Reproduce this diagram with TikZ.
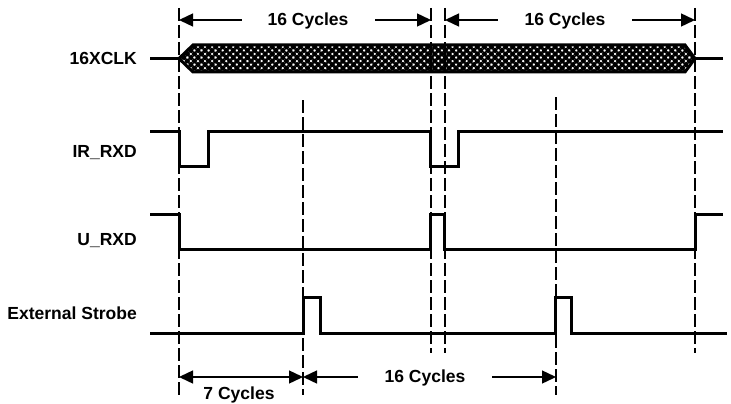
\documentclass[tikz,border=0pt]{standalone}
\usepackage{fontspec}
\setmainfont{Liberation Sans}
\usetikzlibrary{arrows.meta,patterns.meta}
\begin{document}
\begin{tikzpicture}[x=1pt,y=-1pt,font=\fontsize{17.5}{19}\selectfont\bfseries,line join=miter,
	>={Triangle[length=14pt,width=13pt]},
	sig/.style={line width=3pt},
	guide/.style={line width=1.1pt,dash pattern=on 13pt off 4pt},
	dim/.style={line width=1.4pt},
	lbl/.style={anchor=base east,inner sep=0pt}]
	\useasboundingbox (0,0) rectangle (731,404);
	% dashed guides
	\draw[guide] (179,8)--(179,395);
	\draw[guide] (303,100)--(303,395);
	\draw[guide] (431,8)--(431,353);
	\draw[guide] (445,8)--(445,353);
	\draw[guide] (556,97)--(556,395);
	\draw[guide] (695,8)--(695,353);
	% signal names
	\node[lbl] (clk) at (137,65) {16XCLK};
	\node[lbl] (irrxd) at (137,157) {IR\_RXD};
	\node[lbl] (urxd) at (137,245) {U\_RXD};
	\node[lbl] (strobe) at (137,319) {External Strobe};
	% 16XCLK bus
	\draw[sig] (150,58.5)--(179,58.5);
	\draw[sig,pattern={Hatch[angle=45,distance=5pt,line width=2.9pt]}]
		(179,58.5)--(193,45)--(685,45)--(695,58.5)--(685,72)--(193,72)--cycle;
	\draw[sig] (695,58.5)--(723,58.5);
	% IR_RXD
	\draw[sig] (150,131)--(179,131)--(179,166)--(208,166)--(208,131)--(430,131)--(430,166)--(458,166)--(458,131)--(723,131);
	% U_RXD
	\draw[sig] (150,214)--(179,214)--(179,249)--(430,249)--(430,214)--(444,214)--(444,249)--(695,249)--(695,214)--(723,214);
	% External Strobe
	\draw[sig] (150,333)--(303,333)--(303,297)--(320,297)--(320,333)--(555,333)--(555,297)--(571,297)--(571,333)--(727,333);
	% top dimensions
	\draw[dim,<-] (179,20)--(242,20);
	\node[anchor=base,inner sep=0pt] (cyc1) at (308,26) {16 Cycles};
	\draw[dim,->] (375,20)--(431,20);
	\draw[dim,<-] (445,20)--(498,20);
	\node[anchor=base,inner sep=0pt] (cyc2) at (565,26) {16 Cycles};
	\draw[dim,->] (632,20)--(695,20);
	% bottom dimensions
	\draw[dim,<->] (179,377)--(303,377);
	\node[anchor=base,inner sep=0pt] (cyc7) at (239,399) {7 Cycles};
	\draw[dim,<-] (303,377)--(358,377);
	\node[anchor=base,inner sep=0pt] (cyc3) at (425,382) {16 Cycles};
	\draw[dim,->] (492,377)--(556,377);
\end{tikzpicture}
\end{document}
